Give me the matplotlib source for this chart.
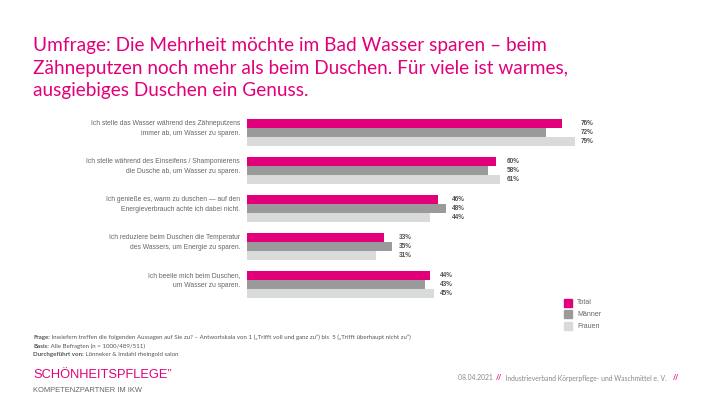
import numpy as np
import matplotlib.pyplot as plt
from matplotlib.patches import Rectangle
import matplotlib.transforms as mtransforms

statements = [
    "Ich stelle das Wasser während des Zähneputzens\nimmer ab, um Wasser zu sparen.",
    "Ich stelle während des Einseifens / Shamponierens\ndie Dusche ab, um Wasser zu sparen.",
    "Ich genieße es, warm zu duschen — auf den\nEnergieverbrauch achte ich dabei nicht.",
    "Ich reduziere beim Duschen die Temperatur\ndes Wassers, um Energie zu sparen.",
    "Ich beeile mich beim Duschen,\num Wasser zu sparen.",
]
total = [76, 60, 46, 33, 44]
maenner = [72, 58, 48, 35, 43]
frauen = [79, 61, 44, 31, 45]
series_names = ["Total", "Männer", "Frauen"]

PINK = "#e2007a"
GREY = "#9a9a9a"
LIGHT = "#d9dbda"
TXT = "#666666"

fig = plt.figure(figsize=(7.1, 3.99), dpi=100)
fig.patch.set_facecolor("white")

# title
fig.text(33 / 710, 1 - 37 / 399,
         "Umfrage: Die Mehrheit möchte im Bad Wasser sparen – beim\n"
         "Zähneputzen noch mehr als beim Duschen. Für viele ist warmes,\n"
         "ausgiebiges Duschen ein Genuss.",
         family="Lato", fontsize=13.7, color=PINK, va="top", ha="left",
         linespacing=1.4)

ax = fig.add_axes([247 / 710, 1 - 299 / 399, 415 / 710, 181 / 399])
h = 9 / 38
y = np.arange(len(statements))
cols = [PINK, GREY, LIGHT]
for k, vals in enumerate([total, maenner, frauen]):
    ax.barh(y + (k - 1) * h, vals, height=h, color=cols[k], edgecolor="none")

ax.set_xlim(0, 100)
ax.set_ylim(4.38, -0.38)
ax.axis("off")

trans = mtransforms.blended_transform_factory(ax.transAxes, ax.transData)
for i, s in enumerate(statements):
    ax.text(-7 / 415, i - 1.5 * h + 0.03, s, transform=trans, ha="right", va="top",
            family="Liberation Sans", fontsize=4.85, color=TXT, linespacing=1.5)
    m = max(total[i], maenner[i], frauen[i])
    for k, vals in enumerate([total, maenner, frauen]):
        ax.text(m + 1.5, i + (k - 1) * h, f"{vals[i]}%", ha="left", va="center",
                family="Liberation Sans", fontsize=4.7, color="#555555",
                fontweight="bold")

# legend
for k, name in enumerate(series_names):
    yy = 1 - (303 + k * 11.5) / 399
    fig.patches.append(Rectangle((564 / 710, yy - 3.5 / 399), 8 / 710, 8 / 399,
                                 transform=fig.transFigure, color=cols[k]))
    fig.text(577 / 710, yy, name, family="Liberation Sans", fontsize=5,
             color=TXT, va="center", ha="left")

# footnotes
notes = [("Frage:", " Inwiefern treffen die folgenden Aussagen auf Sie zu? – Antwortskala von 1 („Trifft voll und ganz zu“) bis  5 („Trifft überhaupt nicht zu“)"),
         ("Basis:", " Alle Befragten (n = 1000/489/511)"),
         ("Durchgeführt von:", " Lönneker & Imdahl rheingold salon")]
for j, (b, t) in enumerate(notes):
    yy = 1 - (337.5 + j * 8.5) / 399
    tb = fig.text(33 / 710, yy, b, family="Lato", fontsize=4.4, fontweight="bold",
                  color="#555555", va="center", ha="left")
    fig.canvas.draw()
    bb = tb.get_window_extent()
    fig.text(bb.x1 / 710, yy, t, family="Lato", fontsize=4.4, color="#555555",
             va="center", ha="left")

fig.text(33 / 710, 1 - 375 / 399, "SCHÖNHEITSPFLEGE\u201d", family="Liberation Sans",
         fontsize=9.3, color=PINK, va="center", ha="left")
fig.text(33 / 710, 1 - 390 / 399, "KOMPETENZPARTNER IM IKW", family="Liberation Sans",
         fontsize=5.4, color="#666666", va="center", ha="left")

# right footer
parts = [("08.04.2021  ", "#888888"), ("//", PINK), ("  Industrieverband Körperpflege- und Waschmittel e. V.   ", "#888888"), ("//", PINK)]
x0 = 458
for t, c in parts:
    tt = fig.text(x0 / 710, 1 - 378 / 399, t, family="Lato", fontsize=4.9, color=c,
                  va="center", ha="left", fontweight="bold" if c == PINK else "normal")
    fig.canvas.draw()
    x0 = tt.get_window_extent().x1

fig.savefig("out.png", dpi=100)
